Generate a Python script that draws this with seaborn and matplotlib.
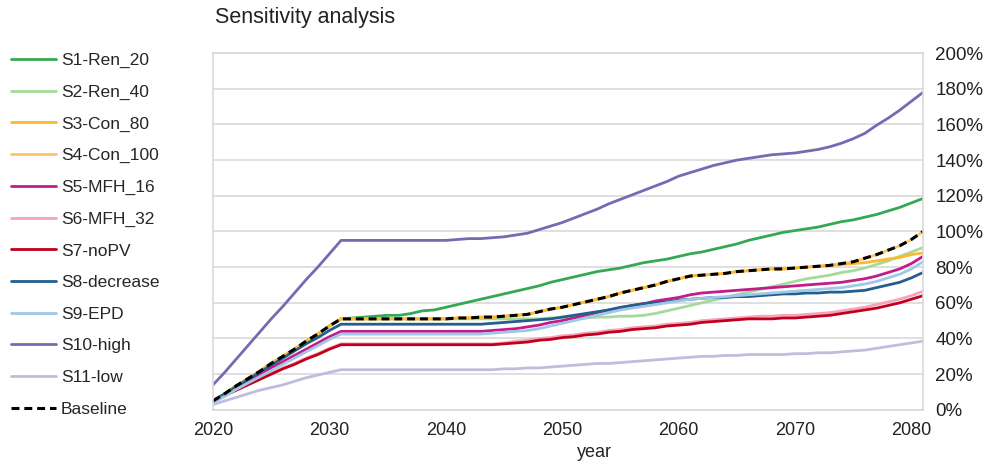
import matplotlib
matplotlib.use("Agg")
import matplotlib.pyplot as plt
import seaborn as sns
import numpy as np
import pandas as pd
from matplotlib.ticker import PercentFormatter, MultipleLocator

# years 2020..2081, values in % (rows = decades)
years = list(range(2020, 2082))

baseline = [5, 9, 13.5, 17.5, 21.5, 26, 30, 34, 38.5, 42.5,
            47, 51, 51, 51, 51, 51, 51, 51, 51, 51,
            51, 51.5, 51.5, 52, 52, 52.5, 53, 53.5, 55, 56.5,
            57.5, 59, 60.5, 62, 63.5, 65.5, 67, 68.5, 70, 72,
            73.5, 75, 75.5, 76, 76.5, 77.5, 78, 78.5, 79, 79,
            79.5, 80, 80.5, 81, 82, 83, 85, 87, 89.5, 92,
            95.5, 100]

s1_ren20 = [5, 9, 13.5, 17.5, 21.5, 26, 30, 34, 38.5, 42.5,
            47, 51, 51.5, 52, 52.5, 53, 53, 54, 55.5, 56,
            57.5, 59, 60.5, 62, 63.5, 65, 66.5, 68, 69.5, 71.5,
            73, 74.5, 76, 77.5, 78.5, 79.5, 81, 82.5, 83.5, 84.5,
            86, 87.5, 88.5, 90, 91.5, 93, 95, 96.5, 98, 99.5,
            100.5, 101.5, 102.5, 104, 105.5, 106.5, 108, 109.5, 111.5, 113.5,
            116, 118.5]

s2_ren40 = [5, 9, 13.5, 17.5, 21.5, 26, 30, 34, 38.5, 42.5,
            47, 51, 51, 51, 51, 51, 51, 51, 51, 51,
            51, 51, 51, 51, 51, 51, 51, 51, 51, 51.5,
            51.5, 51.5, 51.5, 52, 52, 52.5, 52.5, 53, 54, 55.5,
            57, 58.5, 60, 61.5, 63, 64.5, 66, 67.5, 69, 70.5,
            72, 73.5, 74.5, 75.5, 77, 78, 79.5, 81.5, 83.5, 86,
            88.5, 91]

s3_con80 = [5, 9, 13.5, 17.5, 21.5, 26, 30, 34, 38.5, 42.5,
            47, 51, 51, 51, 51, 51, 51, 51, 51, 51,
            51, 51.5, 51.5, 52, 52, 52.5, 53, 53.5, 55, 56.5,
            57.5, 59, 60.5, 62, 63.5, 65.5, 67, 68.5, 70, 72,
            73.5, 75, 75.5, 76, 76.5, 77.5, 78, 78.5, 79, 79,
            79.5, 80, 80.5, 81, 81.5, 82, 82.5, 83.5, 84.5, 85.5,
            87, 88]

s4_con100 = [5, 9, 13.5, 17.5, 21.5, 26, 30, 34, 38.5, 42.5,
             47, 51, 51, 51, 51, 51, 51, 51, 51, 51,
             51, 51.5, 51.5, 52, 52, 52.5, 53, 53.5, 55, 56.5,
             57.5, 59, 60.5, 62, 63.5, 65.5, 67, 68.5, 70, 72,
             73.5, 75, 75.5, 76, 76.5, 77.5, 78, 78.5, 79, 79,
             79.5, 80, 80.5, 81, 82, 83, 85, 87, 89.5, 92,
             95.5, 100]

s5_mfh16 = [5, 8.5, 12.5, 16, 19.5, 23.5, 27, 30.5, 34, 37.5,
            41, 44, 44, 44, 44, 44, 44, 44, 44, 44,
            44, 44, 44, 44, 44.5, 45, 45.5, 46.5, 47.5, 49,
            50, 51.5, 53, 54.5, 56, 57, 58.5, 59.5, 61, 62,
            63, 64.5, 65.5, 66, 66.5, 67, 67.5, 68, 68.5, 69,
            69.5, 70, 70.5, 71, 71.5, 72.5, 73.5, 75, 77, 79,
            82, 86]

s6_mfh32 = [5, 8.5, 11.5, 14.5, 17.5, 20.5, 23.5, 26, 29, 31.5,
            34.5, 37, 37, 37, 37, 37, 37, 37, 37, 37,
            37, 37, 37, 37, 37, 37.5, 38.5, 39, 40, 40.5,
            41.5, 42, 43, 43.5, 44.5, 45, 46, 46.5, 47, 48,
            48.5, 49, 50, 50.5, 51, 51.5, 52, 52.5, 52.5, 53,
            53, 53.5, 54, 54.5, 55.5, 56.5, 57.5, 59, 60.5, 62,
            64, 66.5]

s7_nopv = [5, 8, 11, 14, 17, 20, 23, 25.5, 28.5, 31,
           34, 36.5, 36.5, 36.5, 36.5, 36.5, 36.5, 36.5, 36.5, 36.5,
           36.5, 36.5, 36.5, 36.5, 36.5, 37, 37.5, 38, 39, 39.5,
           40.5, 41, 42, 42.5, 43.5, 44, 45, 45.5, 46, 47,
           47.5, 48, 49, 49.5, 50, 50.5, 51, 51, 51, 51.5,
           51.5, 52, 52.5, 53, 54, 55, 56, 57, 58.5, 60,
           62, 64]

s8_decrease = [5, 9, 13, 17, 21, 25, 29, 33, 37, 40.5,
               44.5, 48, 48, 48, 48, 48, 48, 48, 48, 48,
               48, 48, 48, 48, 48.5, 49, 49.5, 50, 50.5, 51,
               52, 53, 54, 55, 56, 57.5, 58.5, 59.5, 60, 60.5,
               61.5, 62, 62.5, 63, 63, 63.5, 63.5, 64, 64.5, 65,
               65, 65.5, 65.5, 66, 66, 66.5, 67, 68.5, 70, 71.5,
               74, 77]

s9_epd = [4, 7.5, 11.5, 15, 18.5, 22, 25.5, 29, 32.5, 36,
          39.5, 42.5, 42.5, 42.5, 42.5, 42.5, 42.5, 42.5, 42.5, 42.5,
          42.5, 42.5, 42.5, 42.5, 43, 43.5, 44, 44.5, 45.5, 47,
          48.5, 50, 51.5, 53, 54.5, 56, 57, 58, 59, 60,
          61, 62, 62.5, 63, 63.5, 64, 64.5, 65, 65.5, 66,
          66.5, 67, 67.5, 68, 68.5, 69.5, 70.5, 72, 74, 76,
          79, 83]

s10_high = [14, 21, 28.5, 36, 43.5, 51, 58, 65.5, 73, 80,
            87.5, 95, 95, 95, 95, 95, 95, 95, 95, 95,
            95, 95.5, 96, 96, 96.5, 97, 98, 99, 101, 103,
            105, 107.5, 110, 112.5, 115.5, 118, 120.5, 123, 125.5, 128,
            131, 133, 135, 137, 138.5, 140, 141, 142, 143, 143.5,
            144, 145, 146, 147.5, 149.5, 152, 155, 159.5, 163.5, 168,
            173, 178]

s11_low = [3, 5, 7, 9, 11, 12.5, 14, 16, 18, 19.5,
           21, 22.5, 22.5, 22.5, 22.5, 22.5, 22.5, 22.5, 22.5, 22.5,
           22.5, 22.5, 22.5, 22.5, 22.5, 23, 23, 23.5, 23.5, 24,
           24.5, 25, 25.5, 26, 26, 26.5, 27, 27.5, 28, 28.5,
           29, 29.5, 30, 30, 30.5, 30.5, 31, 31, 31, 31,
           31.5, 31.5, 32, 32, 32.5, 33, 33.5, 34.5, 35.5, 36.5,
           37.5, 38.5]

names = ["S1-Ren_20", "S2-Ren_40", "S3-Con_80", "S4-Con_100", "S5-MFH_16",
         "S6-MFH_32", "S7-noPV", "S8-decrease", "S9-EPD", "S10-high",
         "S11-low"]
series = [s1_ren20, s2_ren40, s3_con80, s4_con100, s5_mfh16, s6_mfh32,
          s7_nopv, s8_decrease, s9_epd, s10_high, s11_low]
colors = ["#34a853", "#a6d99c", "#fdb92e", "#fdc46e", "#c51b8a",
          "#f7a3b9", "#c0001c", "#245e8f", "#9fc8e4", "#746bb2",
          "#bdbede"]

sns.set_style("white")
plt.rcParams['font.family'] = ['Liberation Sans', 'DejaVu Sans']

fig = plt.figure(figsize=(9.84, 4.7), dpi=100)
ax = fig.add_axes([0.2165, 0.128, 0.7215, 0.759])

# draw order: S4 under S3 so the golden colour shows under the baseline
order = [0, 1, 3, 2, 4, 5, 6, 7, 8, 9, 10]
handles = {}
for i in order:
    sns.lineplot(x=years, y=series[i], color=colors[i], linewidth=2.0,
                 ax=ax, label=names[i])
    handles[names[i]] = ax.lines[-1]
sns.lineplot(x=years, y=baseline, color="black", linewidth=2.2, ax=ax,
             label="Baseline")
base_line = ax.lines[-1]
base_line.set_dashes((2.6, 1.6))
handles["Baseline"] = base_line
ax.get_legend().remove()

ax.set_xlim(2020, 2081)
ax.set_ylim(0, 200)
ax.xaxis.set_major_locator(MultipleLocator(10))
ax.yaxis.set_major_locator(MultipleLocator(20))
ax.yaxis.set_major_formatter(PercentFormatter(decimals=0))
ax.yaxis.tick_right()
ax.grid(True, axis='y', color="#d9d9d9", linewidth=1.2)
for sp in ax.spines.values():
    sp.set_color("#d9d9d9")
    sp.set_linewidth(1.2)
ax.tick_params(axis='both', length=0, colors="#222222")
ax.tick_params(axis='y', pad=9, labelsize=13.5)
ax.tick_params(axis='x', pad=9, labelsize=13)

ax.set_xlabel("year", fontsize=13, color="#222222")
ax.xaxis.set_label_coords((594 - 213) / 710, -0.095)
ax.set_ylabel("")

fig.text(215 / 984, 1 - 18 / 470, "Sensitivity analysis", fontsize=15.5,
         color="#222222", va="center", ha="left")

leg_names = names + ["Baseline"]
fig.legend([handles[n] for n in leg_names], leg_names, loc="upper left",
           bbox_to_anchor=(0.002, 1 - 44 / 470), frameon=False, fontsize=12.5,
           handlelength=2.6, handletextpad=0.3, labelspacing=0.95,
           borderaxespad=0.0, borderpad=0.5)

fig.savefig("out.png", dpi=100)
